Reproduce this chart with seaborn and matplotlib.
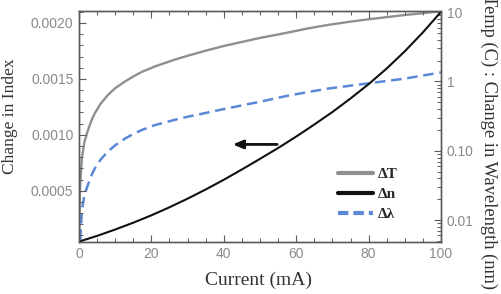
import numpy as np
import pandas as pd
import matplotlib
matplotlib.use("Agg")
import matplotlib.pyplot as plt
import seaborn as sns
from matplotlib.ticker import MultipleLocator, FixedLocator, LogLocator, NullFormatter, FixedFormatter
from matplotlib.lines import Line2D

# ---- data ----
# Change in index (left axis)
dn_current = [0, 5, 10, 15, 20, 25, 30, 35, 40, 45, 50, 55, 60, 65, 70, 75, 80, 85, 90, 95, 100]
dn_values = [4.5e-5, 9.6e-5, 1.53e-4, 2.14e-4, 2.8e-4, 3.52e-4, 4.29e-4, 5.11e-4, 5.98e-4, 6.9e-4,
             7.85e-4, 8.82e-4, 9.84e-4, 1.092e-3, 1.204e-3, 1.325e-3, 1.453e-3, 1.593e-3,
             1.747e-3, 1.916e-3, 2.1e-3]

# Temperature change (right axis, log)
dt_current = [0.05, 0.3, 0.8, 1.5, 2.5, 3.5, 4.4, 6, 8, 10, 12.7, 15, 17.4, 21, 26.5, 30, 34.3,
              40, 45.3, 50, 57.5, 63, 68.8, 75, 80, 90, 100]
dt_values = [0.0052, 0.03, 0.079, 0.135, 0.2, 0.28, 0.35, 0.48, 0.64, 0.8, 1.0, 1.18, 1.38, 1.65,
             2.07, 2.35, 2.72, 3.25, 3.75, 4.25, 5.05, 5.8, 6.55, 7.3, 7.9, 9.1, 10.3]

# Wavelength change (right axis, log)
dl_current = [0.35, 0.8, 1.5, 2.5, 3.5, 4.4, 6, 8, 10, 12.7, 15, 17.4, 21, 26.5, 30, 34.3, 40,
              45.3, 50, 57.5, 63, 68.8, 75, 80, 90, 100]
dl_values = [0.0052, 0.0139, 0.023, 0.0327, 0.045, 0.056, 0.075, 0.098, 0.12, 0.15, 0.175, 0.2,
             0.235, 0.28, 0.31, 0.345, 0.4, 0.455, 0.51, 0.62, 0.7, 0.79, 0.87, 0.94, 1.1, 1.35]

x_ticks = [0, 20, 40, 60, 80, 100]
left_ticks = [0.0005, 0.0010, 0.0015, 0.0020]
left_labels = ["0.0005", "0.0010", "0.0015", "0.0020"]
right_ticks = [0.01, 0.1, 1, 10]
right_labels = ["0.01", "0.10", "1", "10"]
legend_labels = ["ΔT", "Δn", "Δλ"]

arrow_tail = (55.5, 9.14e-4)
arrow_tip = (41.7, 9.14e-4)

# ---- style ----
sns.set_style("white")
plt.rcParams["font.family"] = ["Liberation Sans", "DejaVu Sans"]

GRAY = "#8f8f8f"
BLACK = "#111111"
BLUE = "#5b88d6"
TICKC = "#8a8a8a"
SPINEC = "#5a5a5a"

fig = plt.figure(figsize=(5.02, 2.94), dpi=100)
ax = fig.add_axes([79 / 502, 1 - 241.7 / 294, 362 / 502, 231 / 294])
ax2 = ax.twinx()

df_n = pd.DataFrame({"I": dn_current, "v": dn_values})
df_t = pd.DataFrame({"I": dt_current, "v": dt_values})
df_l = pd.DataFrame({"I": dl_current, "v": dl_values})

ax2.set_yscale("log")
sns.lineplot(data=df_t, x="I", y="v", ax=ax2, color=GRAY, lw=1.7, estimator=None, sort=False)
sns.lineplot(data=df_l, x="I", y="v", ax=ax2, color=BLUE, lw=1.8, estimator=None, sort=False,
             dashes=False, linestyle=(0, (4.2, 2.3)))
sns.lineplot(data=df_n, x="I", y="v", ax=ax, color=BLACK, lw=1.5, estimator=None, sort=False)
ax.set_zorder(ax2.get_zorder() + 1)
ax.patch.set_visible(False)

ax.set_xlim(0, 100)
ax.set_ylim(4.4e-5, 2.11e-3)
ax2.set_ylim(0.00488, 10.5)

ax.xaxis.set_major_locator(FixedLocator(x_ticks))
ax.xaxis.set_minor_locator(MultipleLocator(5))
ax.yaxis.set_major_locator(FixedLocator(left_ticks))
ax.yaxis.set_major_formatter(FixedFormatter(left_labels))
ax.yaxis.set_minor_locator(MultipleLocator(0.0001))
ax2.yaxis.set_major_locator(FixedLocator(right_ticks))
ax2.yaxis.set_major_formatter(FixedFormatter(right_labels))
ax2.yaxis.set_minor_locator(LogLocator(base=10, subs=np.arange(2, 10)))
ax2.yaxis.set_minor_formatter(NullFormatter())

ax.set_xlabel("")
ax.set_ylabel("")
ax2.set_ylabel("")

for a in (ax, ax2):
    for s in a.spines.values():
        s.set_color(SPINEC)
        s.set_linewidth(1.0)
        s.set_visible(True)

ax.tick_params(axis="both", which="major", direction="in", length=5, width=0.8, color=SPINEC,
               labelsize=10, labelcolor=TICKC, top=True, bottom=True, left=True, right=False, pad=4)
ax.tick_params(axis="both", which="minor", direction="in", length=3, width=0.7, color=SPINEC,
               top=True, bottom=True, left=True, right=False)
ax2.tick_params(axis="y", which="major", direction="in", length=5, width=0.8, color=SPINEC,
                labelsize=10, labelcolor=TICKC, right=True, left=False, pad=4)
ax2.tick_params(axis="y", which="minor", direction="in", length=3, width=0.7, color=SPINEC,
                right=True, left=False)

# arrow pointing to left axis
ax.annotate("", xy=arrow_tip, xytext=arrow_tail,
            arrowprops=dict(arrowstyle="-|>,head_length=0.6,head_width=0.25", color=BLACK, lw=2.0))

# legend
handles = [Line2D([], [], color=GRAY, lw=3),
           Line2D([], [], color=BLACK, lw=3),
           Line2D([], [], color=BLUE, lw=3, linestyle=(0, (2.5, 1.2)))]
leg = ax.legend(handles, legend_labels, loc="upper left", bbox_to_anchor=(0.716, 0.322),
                frameon=False, handlelength=2.3, handletextpad=0.3, labelspacing=0.42,
                borderpad=0, borderaxespad=0,
                prop={"family": "Liberation Serif", "weight": "bold", "size": 11})

fig.text(259 / 502, 1 - 280 / 294, "Current (mA)", ha="center", va="center",
         family="Liberation Serif", size=14, color="#333333")
fig.text(10 / 502, 1 - 116 / 294, "Change in Index", ha="center", va="center", rotation=90,
         family="Liberation Serif", size=12.5, color="#333333")
fig.text(489 / 502, 1 - 142 / 294, "Temp (C) : Change in Wavelength (nm)", ha="center", va="center",
         rotation=270, family="Liberation Serif", size=13.3, color="#333333")

fig.savefig("out.png", dpi=100)
